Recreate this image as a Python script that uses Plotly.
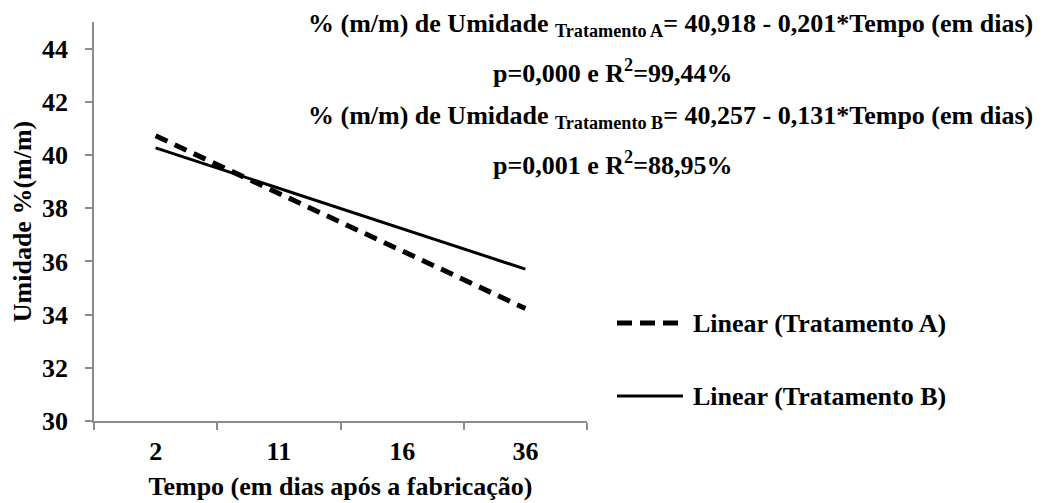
import plotly.graph_objects as go

# Data
dias = ["2", "11", "16", "36"]
trat_a = [40.72, 38.56, 36.39, 34.23]
trat_b = [40.27, 38.75, 37.23, 35.71]
y_ticks = [30, 32, 34, 36, 38, 40, 42, 44]
nome_a = "Linear (Tratamento A)"
nome_b = "Linear (Tratamento B)"

FONT = "Liberation Serif, Times New Roman, serif"
FS = 26
OFF = 8  # default page body margin
W, H = 1045 - OFF, 503 - OFF
L, R, T, B = 94 - OFF, 587 - OFF, 22 - OFF, 421 - OFF

def px(x):
    return (x - OFF - L) / (R - L)

def py(y):
    return (B - (y - OFF)) / (B - T)

fig = go.Figure()
fig.add_trace(go.Scatter(x=dias, y=trat_a, mode="lines", name=nome_a,
                         line=dict(color="black", width=5, dash="13px,8px"),
                         showlegend=False))
fig.add_trace(go.Scatter(x=dias, y=trat_b, mode="lines", name=nome_b,
                         line=dict(color="black", width=3),
                         showlegend=False))

axis_col = "#8c8c8c"
bold_font = dict(family=FONT, size=FS, color="black", weight="bold")
fig.update_xaxes(type="category", range=[-0.5, 3.5], showline=True, linecolor=axis_col,
                 linewidth=1.5, ticks="outside", tickson="boundaries", ticklen=7,
                 tickcolor=axis_col, tickwidth=1.5, showgrid=False, zeroline=False,
                 tickfont=bold_font, ticklabelstandoff=6, automargin=False,
                 title=dict(text="Tempo (em dias após a fabricação)",
                            font=bold_font, standoff=12))
fig.update_yaxes(range=[30, 45], tickvals=y_ticks, showline=True, linecolor=axis_col,
                 linewidth=1.5, ticks="outside", ticklen=7, tickcolor=axis_col,
                 tickwidth=1.5, showgrid=False, zeroline=False,
                 tickfont=bold_font, ticklabelstandoff=12, automargin=False,
                 title=dict(text="Umidade %(m/m)", font=bold_font, standoff=12))

# Legend drawn manually
fig.add_shape(type="line", xref="paper", yref="paper", x0=px(617), x1=px(678),
              y0=py(323), y1=py(323), line=dict(color="black", width=5, dash="15px,8px"))
fig.add_shape(type="line", xref="paper", yref="paper", x0=px(617), x1=px(683),
              y0=py(396), y1=py(396), line=dict(color="black", width=3))

fig.add_annotation(xref="paper", yref="paper", x=px(691), y=py(323), xanchor="left",
                   yanchor="middle", text=nome_a, showarrow=False, font=bold_font)
fig.add_annotation(xref="paper", yref="paper", x=px(691), y=py(396), xanchor="left",
                   yanchor="middle", text=nome_b, showarrow=False, font=bold_font)

eq_lines = [
    ("% (m/m) de Umidade <sub>Tratamento A</sub>= 40,918 - 0,201*Tempo (em dias)", 670, 25),
    ("p=0,000 e R<sup>2</sup>=99,44%", 613, 71),
    ("% (m/m) de Umidade <sub>Tratamento B</sub>= 40,257 - 0,131*Tempo (em dias)", 670, 117),
    ("p=0,001 e R<sup>2</sup>=88,95%", 613, 163),
]
for txt, cx, cy in eq_lines:
    fig.add_annotation(xref="paper", yref="paper", x=px(cx), y=py(cy), xanchor="center",
                       yanchor="middle", text=txt, showarrow=False, font=bold_font)

fig.update_layout(width=W, height=H, margin=dict(l=L, r=W - R, t=T, b=H - B),
                  plot_bgcolor="white", paper_bgcolor="white", showlegend=False)

fig.write_html("out.html")
